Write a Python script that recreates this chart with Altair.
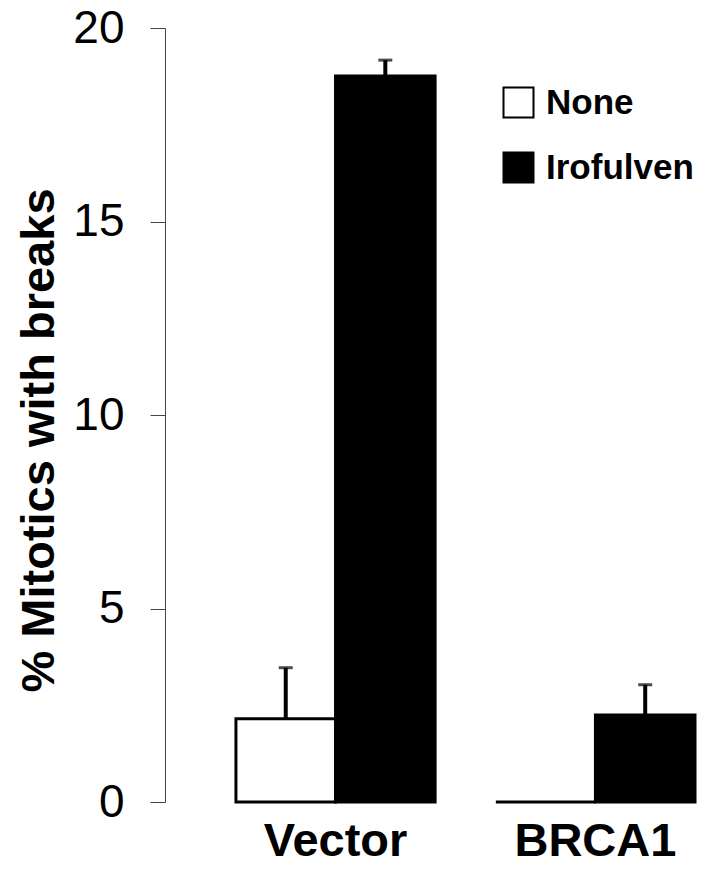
import altair as alt
import pandas as pd

groups = ["Vector", "Vector", "BRCA1", "BRCA1"]
treatments = ["None", "Irofulven", "None", "Irofulven"]
values = [2.15, 18.76, 0.0, 2.25]
errors = [1.32, 0.41, 0.0, 0.78]

group_order = ["Vector", "BRCA1"]
treatment_order = ["None", "Irofulven"]
y_ticks = [0, 5, 10, 15, 20]

df = pd.DataFrame({"group": groups, "treatment": treatments, "value": values, "err": errors})
df["upper"] = df["value"] + df["err"]

FONT = "Liberation Sans"

x = alt.X(
    "group:N",
    sort=group_order,
    scale=alt.Scale(paddingInner=0.2337, paddingOuter=0.1365, align=1),
    axis=alt.Axis(
        title=None, domain=False, ticks=False, tickSize=0, labelAngle=0,
        labelFontSize=47, labelFontWeight="bold", labelFont=FONT,
        labelColor="black", labelPadding=53, labelBaseline="alphabetic",
    ),
)
xo = alt.XOffset("treatment:N", sort=treatment_order,
                 scale=alt.Scale(paddingInner=0, paddingOuter=0))

y = alt.Y(
    "value:Q",
    scale=alt.Scale(domain=[0, 20], nice=False, zero=True),
    axis=alt.Axis(
        values=y_ticks, grid=False, tickSize=15, tickColor="#444", domainColor="#444",
        tickWidth=1, domainWidth=1, labelFontSize=46, labelFont=FONT, labelColor="black",
        labelPadding=26, title="% Mitotics with breaks", titleFontSize=47,
        titleFontWeight="bold", titleFont=FONT, titleColor="black",
        titleX=-112, titleY=412, titleAngle=270, titleAlign="center",
        titleBaseline="alphabetic",
    ),
)

base = alt.Chart(df)

bars = base.mark_bar(stroke="black", strokeWidth=3, opacity=1).encode(
    x=x, xOffset=xo, y=y,
    fill=alt.Fill(
        "treatment:N",
        scale=alt.Scale(domain=treatment_order, range=["white", "black"]),
        legend=alt.Legend(
            orient="none", legendX=336, legendY=57, title=None,
            symbolType="square", symbolSize=900, symbolStrokeColor="black",
            symbolStrokeWidth=2, symbolOpacity=1, labelFontSize=35,
            labelFontWeight="bold", labelFont=FONT, labelColor="black",
            labelOffset=10, rowPadding=26,
        ),
    ),
)

rules = base.transform_filter("datum.err > 0").mark_rule(strokeWidth=4, color="black").encode(
    x=x, xOffset=xo, y=alt.Y("value:Q"), y2="upper:Q"
)

caps = base.transform_filter("datum.err > 0").mark_tick(color="black", thickness=3, size=14).encode(
    x=x, xOffset=xo, y=alt.Y("upper:Q")
)

chart = alt.layer(rules, bars, caps).properties(
    width=530, height=774,
    padding={"left": 157, "top": 20, "right": 2, "bottom": 62},
    autosize=alt.AutoSizeParams(type="none"),
).configure_view(stroke=None)

chart.save("out.html", embed_options={"renderer": "svg", "actions": False})
